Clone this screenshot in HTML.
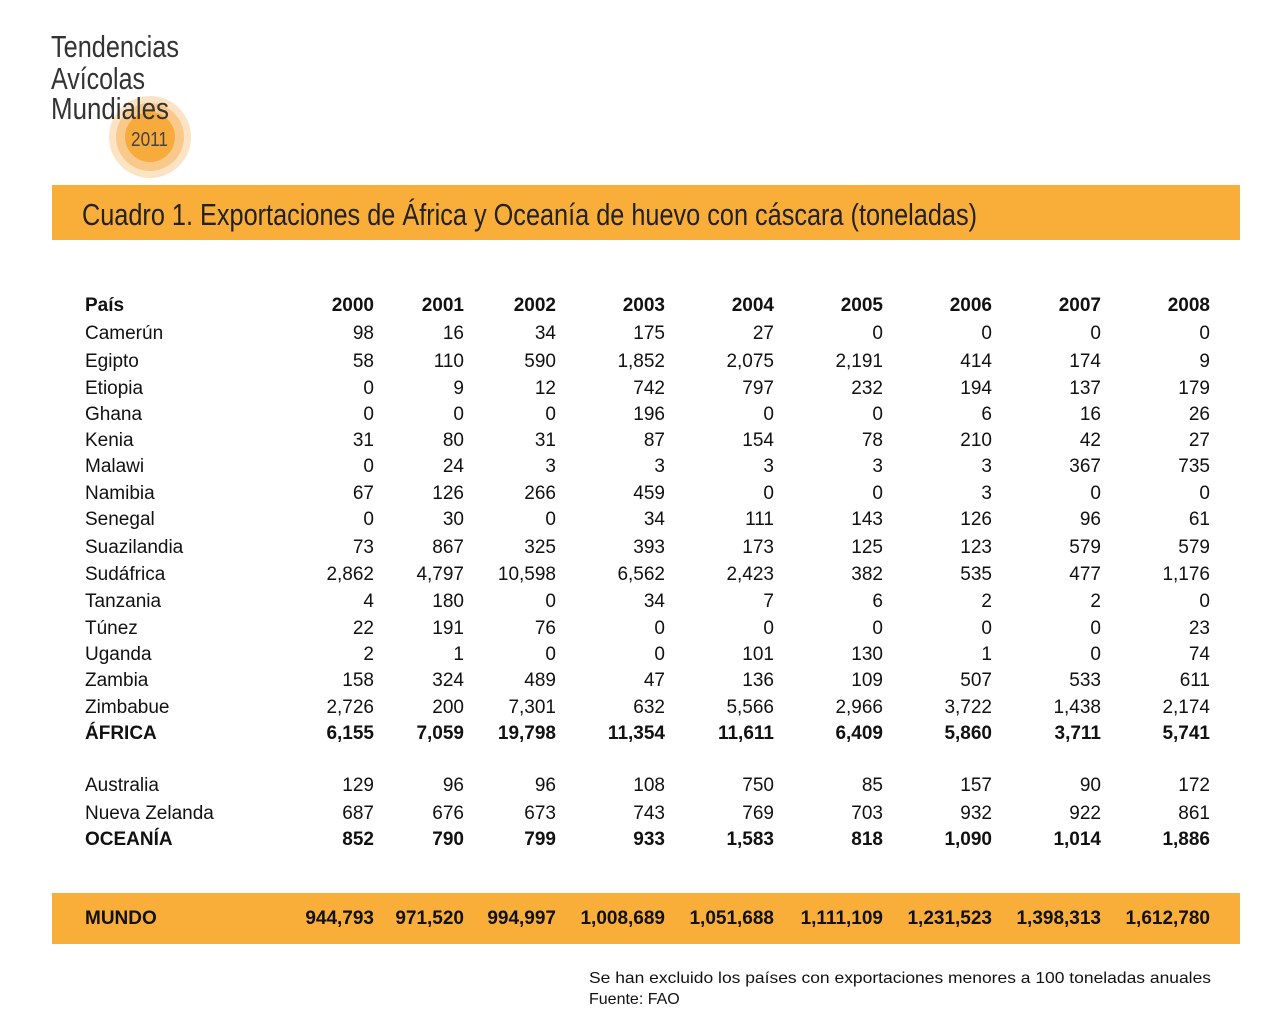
<!DOCTYPE html>
<html><head><meta charset="utf-8"><style>
body{margin:0;background:#fff}
svg{display:block}
text{font-family:"Liberation Sans",sans-serif;font-size:19px;fill:#111}
.b{font-weight:bold}
.r text{text-anchor:end}
</style></head><body>
<svg width="1287" height="1035" viewBox="0 0 1287 1035">
<circle cx="150" cy="137" r="41" fill="#fbe3c4"/>
<circle cx="150" cy="137" r="34" fill="#f8c98b"/>
<circle cx="150" cy="137" r="25" fill="#f7ab3c"/>
<g style="font-size:31px" fill="#333">
<text x="51" y="57" textLength="128" lengthAdjust="spacingAndGlyphs" style="font-size:31px;fill:#333">Tendencias</text>
<text x="51" y="89" textLength="94" lengthAdjust="spacingAndGlyphs" style="font-size:31px;fill:#333">Avícolas</text>
<text x="51" y="119" textLength="118" lengthAdjust="spacingAndGlyphs" style="font-size:31px;fill:#333">Mundiales</text>
</g>
<text x="131" y="146" textLength="37" lengthAdjust="spacingAndGlyphs" style="font-size:20px;fill:#444">2011</text>
<rect x="52" y="185" width="1188" height="55" fill="#f9ae3a"/>
<text x="82" y="225" textLength="895" lengthAdjust="spacingAndGlyphs" style="font-size:31px;fill:#222">Cuadro 1. Exportaciones de África y Oceanía de huevo con cáscara (toneladas)</text>
<rect x="52" y="893" width="1188" height="51" fill="#f9ae3a"/>

<g>
<text x="85" y="311" class="b">País</text>
<text x="85" y="339">Camerún</text>
<text x="85" y="367">Egipto</text>
<text x="85" y="394">Etiopia</text>
<text x="85" y="420">Ghana</text>
<text x="85" y="446">Kenia</text>
<text x="85" y="472">Malawi</text>
<text x="85" y="499">Namibia</text>
<text x="85" y="525">Senegal</text>
<text x="85" y="553">Suazilandia</text>
<text x="85" y="580">Sudáfrica</text>
<text x="85" y="607">Tanzania</text>
<text x="85" y="634">Túnez</text>
<text x="85" y="660">Uganda</text>
<text x="85" y="686">Zambia</text>
<text x="85" y="713">Zimbabue</text>
<text x="85" y="739" class="b">ÁFRICA</text>
<text x="85" y="791">Australia</text>
<text x="85" y="819">Nueva Zelanda</text>
<text x="85" y="845" class="b">OCEANÍA</text>
<text x="85" y="924" class="b">MUNDO</text>
</g>

<g class="r">
<g class="b">
<text x="374" y="311">2000</text><text x="464" y="311">2001</text><text x="556" y="311">2002</text><text x="665" y="311">2003</text><text x="774" y="311">2004</text><text x="883" y="311">2005</text><text x="992" y="311">2006</text><text x="1101" y="311">2007</text><text x="1210" y="311">2008</text>
</g>
<text x="374" y="339">98</text><text x="464" y="339">16</text><text x="556" y="339">34</text><text x="665" y="339">175</text><text x="774" y="339">27</text><text x="883" y="339">0</text><text x="992" y="339">0</text><text x="1101" y="339">0</text><text x="1210" y="339">0</text>
<text x="374" y="367">58</text><text x="464" y="367">110</text><text x="556" y="367">590</text><text x="665" y="367">1,852</text><text x="774" y="367">2,075</text><text x="883" y="367">2,191</text><text x="992" y="367">414</text><text x="1101" y="367">174</text><text x="1210" y="367">9</text>
<text x="374" y="394">0</text><text x="464" y="394">9</text><text x="556" y="394">12</text><text x="665" y="394">742</text><text x="774" y="394">797</text><text x="883" y="394">232</text><text x="992" y="394">194</text><text x="1101" y="394">137</text><text x="1210" y="394">179</text>
<text x="374" y="420">0</text><text x="464" y="420">0</text><text x="556" y="420">0</text><text x="665" y="420">196</text><text x="774" y="420">0</text><text x="883" y="420">0</text><text x="992" y="420">6</text><text x="1101" y="420">16</text><text x="1210" y="420">26</text>
<text x="374" y="446">31</text><text x="464" y="446">80</text><text x="556" y="446">31</text><text x="665" y="446">87</text><text x="774" y="446">154</text><text x="883" y="446">78</text><text x="992" y="446">210</text><text x="1101" y="446">42</text><text x="1210" y="446">27</text>
<text x="374" y="472">0</text><text x="464" y="472">24</text><text x="556" y="472">3</text><text x="665" y="472">3</text><text x="774" y="472">3</text><text x="883" y="472">3</text><text x="992" y="472">3</text><text x="1101" y="472">367</text><text x="1210" y="472">735</text>
<text x="374" y="499">67</text><text x="464" y="499">126</text><text x="556" y="499">266</text><text x="665" y="499">459</text><text x="774" y="499">0</text><text x="883" y="499">0</text><text x="992" y="499">3</text><text x="1101" y="499">0</text><text x="1210" y="499">0</text>
<text x="374" y="525">0</text><text x="464" y="525">30</text><text x="556" y="525">0</text><text x="665" y="525">34</text><text x="774" y="525">111</text><text x="883" y="525">143</text><text x="992" y="525">126</text><text x="1101" y="525">96</text><text x="1210" y="525">61</text>
<text x="374" y="553">73</text><text x="464" y="553">867</text><text x="556" y="553">325</text><text x="665" y="553">393</text><text x="774" y="553">173</text><text x="883" y="553">125</text><text x="992" y="553">123</text><text x="1101" y="553">579</text><text x="1210" y="553">579</text>
<text x="374" y="580">2,862</text><text x="464" y="580">4,797</text><text x="556" y="580">10,598</text><text x="665" y="580">6,562</text><text x="774" y="580">2,423</text><text x="883" y="580">382</text><text x="992" y="580">535</text><text x="1101" y="580">477</text><text x="1210" y="580">1,176</text>
<text x="374" y="607">4</text><text x="464" y="607">180</text><text x="556" y="607">0</text><text x="665" y="607">34</text><text x="774" y="607">7</text><text x="883" y="607">6</text><text x="992" y="607">2</text><text x="1101" y="607">2</text><text x="1210" y="607">0</text>
<text x="374" y="634">22</text><text x="464" y="634">191</text><text x="556" y="634">76</text><text x="665" y="634">0</text><text x="774" y="634">0</text><text x="883" y="634">0</text><text x="992" y="634">0</text><text x="1101" y="634">0</text><text x="1210" y="634">23</text>
<text x="374" y="660">2</text><text x="464" y="660">1</text><text x="556" y="660">0</text><text x="665" y="660">0</text><text x="774" y="660">101</text><text x="883" y="660">130</text><text x="992" y="660">1</text><text x="1101" y="660">0</text><text x="1210" y="660">74</text>
<text x="374" y="686">158</text><text x="464" y="686">324</text><text x="556" y="686">489</text><text x="665" y="686">47</text><text x="774" y="686">136</text><text x="883" y="686">109</text><text x="992" y="686">507</text><text x="1101" y="686">533</text><text x="1210" y="686">611</text>
<text x="374" y="713">2,726</text><text x="464" y="713">200</text><text x="556" y="713">7,301</text><text x="665" y="713">632</text><text x="774" y="713">5,566</text><text x="883" y="713">2,966</text><text x="992" y="713">3,722</text><text x="1101" y="713">1,438</text><text x="1210" y="713">2,174</text>
<g class="b">
<text x="374" y="739">6,155</text><text x="464" y="739">7,059</text><text x="556" y="739">19,798</text><text x="665" y="739">11,354</text><text x="774" y="739">11,611</text><text x="883" y="739">6,409</text><text x="992" y="739">5,860</text><text x="1101" y="739">3,711</text><text x="1210" y="739">5,741</text>
</g>
<text x="374" y="791">129</text><text x="464" y="791">96</text><text x="556" y="791">96</text><text x="665" y="791">108</text><text x="774" y="791">750</text><text x="883" y="791">85</text><text x="992" y="791">157</text><text x="1101" y="791">90</text><text x="1210" y="791">172</text>
<text x="374" y="819">687</text><text x="464" y="819">676</text><text x="556" y="819">673</text><text x="665" y="819">743</text><text x="774" y="819">769</text><text x="883" y="819">703</text><text x="992" y="819">932</text><text x="1101" y="819">922</text><text x="1210" y="819">861</text>
<g class="b">
<text x="374" y="845">852</text><text x="464" y="845">790</text><text x="556" y="845">799</text><text x="665" y="845">933</text><text x="774" y="845">1,583</text><text x="883" y="845">818</text><text x="992" y="845">1,090</text><text x="1101" y="845">1,014</text><text x="1210" y="845">1,886</text>
<text x="374" y="924">944,793</text><text x="464" y="924">971,520</text><text x="556" y="924">994,997</text><text x="665" y="924">1,008,689</text><text x="774" y="924">1,051,688</text><text x="883" y="924">1,111,109</text><text x="992" y="924">1,231,523</text><text x="1101" y="924">1,398,313</text><text x="1210" y="924">1,612,780</text>
</g>
</g>
<text x="589" y="983" textLength="622" lengthAdjust="spacingAndGlyphs" style="font-size:16px">Se han excluido los países con exportaciones menores a 100 toneladas anuales</text>
<text x="589" y="1004" style="font-size:16px">Fuente: FAO</text>
</svg>
</body></html>
